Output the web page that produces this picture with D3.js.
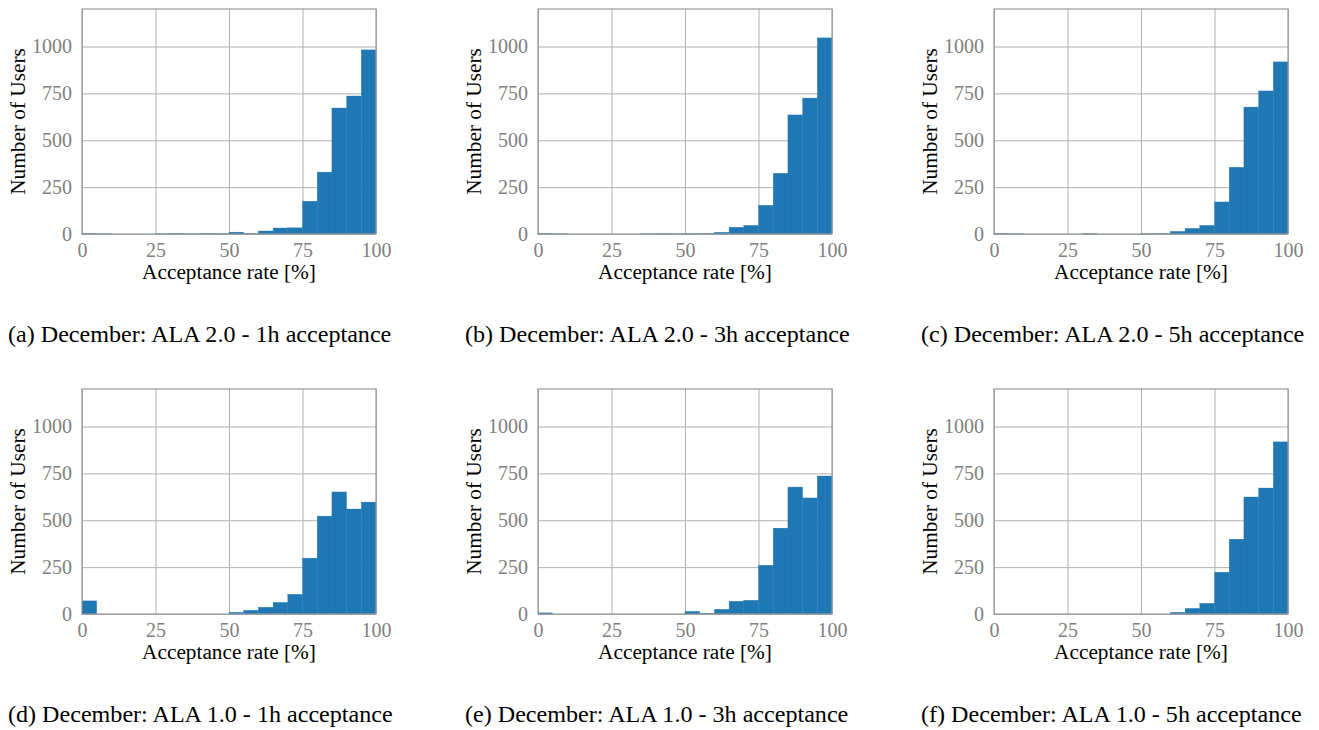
<!DOCTYPE html>
<html>
<head>
<meta charset="utf-8">
<script src="https://cdn.jsdelivr.net/npm/d3@7"></script>
<style>
  body { margin: 0; background: #fff; }
  svg text { font-family: "Liberation Serif", "DejaVu Serif", serif; }
</style>
</head>
<body>
<script>
// bins of 5 % (left edge of every bin)
var binStarts = [0, 5, 10, 15, 20, 25, 30, 35, 40, 45, 50, 55, 60, 65, 70, 75, 80, 85, 90, 95];
var binWidth = 5;

// number of users per bin
var ala2_1h = [3, 1, 0, 0, 0, 1, 3, 1, 3, 2, 10, 3, 16, 32, 33, 175, 330, 672, 736, 982];
var ala2_3h = [3, 1, 0, 0, 0, 0, 0, 1, 2, 1, 2, 3, 9, 36, 46, 153, 324, 635, 725, 1046];
var ala2_5h = [3, 1, 0, 0, 0, 0, 2, 0, 0, 0, 2, 3, 14, 30, 46, 171, 356, 677, 763, 918];
var ala1_1h = [70, 0, 0, 0, 0, 0, 0, 0, 0, 0, 9, 20, 36, 62, 105, 298, 522, 651, 560, 597];
var ala1_3h = [6, 0, 0, 0, 0, 0, 0, 0, 0, 0, 14, 4, 25, 68, 73, 260, 458, 677, 619, 736];
var ala1_5h = [0, 0, 0, 0, 0, 0, 0, 0, 0, 0, 0, 0, 9, 30, 57, 223, 399, 624, 672, 918];

var xTicks = [0, 25, 50, 75, 100];
var yTicks = [0, 250, 500, 750, 1000];
var yMax = 1200;

var captions = [
  "(a) December: ALA 2.0 - 1h acceptance",
  "(b) December: ALA 2.0 - 3h acceptance",
  "(c) December: ALA 2.0 - 5h acceptance",
  "(d) December: ALA 1.0 - 1h acceptance",
  "(e) December: ALA 1.0 - 3h acceptance",
  "(f) December: ALA 1.0 - 5h acceptance"
];
var series = [ala2_1h, ala2_3h, ala2_5h, ala1_1h, ala1_3h, ala1_5h];

var W = 1319, H = 730;
var colLeft = [82, 538, 994];   // left edge of each plot area
var rowTop = [9, 389];          // top edge of each plot area
var pw = 294, ph = 225;
var captionX = [8, 465, 921];
var captionY = [342, 722];

var svg = d3.select('body').append('svg')
    .attr('width', W)
    .attr('height', H);

series.forEach(function(values, i) {
    var col = i % 3, row = Math.floor(i / 3);

    var x = d3.scaleLinear().domain([0, 100]).range([0, pw]);
    var y = d3.scaleLinear().domain([0, yMax]).range([ph, 0]);

    var g = svg.append('g')
        .attr('transform', 'translate(' + colLeft[col] + ',' + rowTop[row] + ')');

    // grid
    g.append('g')
        .attr('class', 'grid')
        .call(d3.axisBottom(x).tickValues(xTicks).tickSize(ph).tickFormat(''))
        .call(function(s) { s.select('.domain').remove(); })
        .selectAll('line').attr('stroke', '#b0b0b0').attr('stroke-width', 1);
    g.append('g')
        .attr('class', 'grid')
        .call(d3.axisLeft(y).tickValues(yTicks).tickSize(-pw).tickFormat(''))
        .call(function(s) { s.select('.domain').remove(); })
        .selectAll('line').attr('stroke', '#b0b0b0').attr('stroke-width', 1);

    // bars
    g.selectAll('rect.bar')
        .data(values)
        .enter()
        .append('rect')
        .attr('class', 'bar')
        .attr('x', function(d, j) { return x(binStarts[j]); })
        .attr('width', function(d, j) { return x(binStarts[j] + binWidth) - x(binStarts[j]); })
        .attr('y', function(d) { return y(d); })
        .attr('height', function(d) { return ph - y(d); })
        .attr('fill', '#1f77b4')
        .attr('stroke', '#1f77b4')
        .attr('stroke-width', 0.3);

    // frame
    g.append('rect')
        .attr('width', pw)
        .attr('height', ph)
        .attr('fill', 'none')
        .attr('stroke', '#999999')
        .attr('stroke-width', 1.2);

    // axes
    var xa = g.append('g')
        .attr('transform', 'translate(0,' + ph + ')')
        .call(d3.axisBottom(x).tickValues(xTicks).tickSize(0).tickPadding(9).tickFormat(d3.format('d')));
    var ya = g.append('g')
        .call(d3.axisLeft(y).tickValues(yTicks).tickSize(0).tickPadding(10).tickFormat(d3.format('d')));
    [xa, ya].forEach(function(a) {
        a.select('.domain').remove();
        a.selectAll('text')
            .attr('fill', '#808080')
            .style('font-size', '20px');
    });

    // axis labels
    g.append('text')
        .attr('x', pw / 2)
        .attr('y', ph + 45)
        .attr('text-anchor', 'middle')
        .style('font-size', '21.3px')
        .text('Acceptance rate [%]');
    g.append('text')
        .attr('transform', 'translate(-57,' + (ph / 2) + ') rotate(-90)')
        .attr('text-anchor', 'middle')
        .style('font-size', '21.3px')
        .text('Number of Users');

    // caption
    svg.append('text')
        .attr('x', captionX[col])
        .attr('y', captionY[row])
        .style('font-size', '24.1px')
        .text(captions[i]);
});
</script>
</body>
</html>
